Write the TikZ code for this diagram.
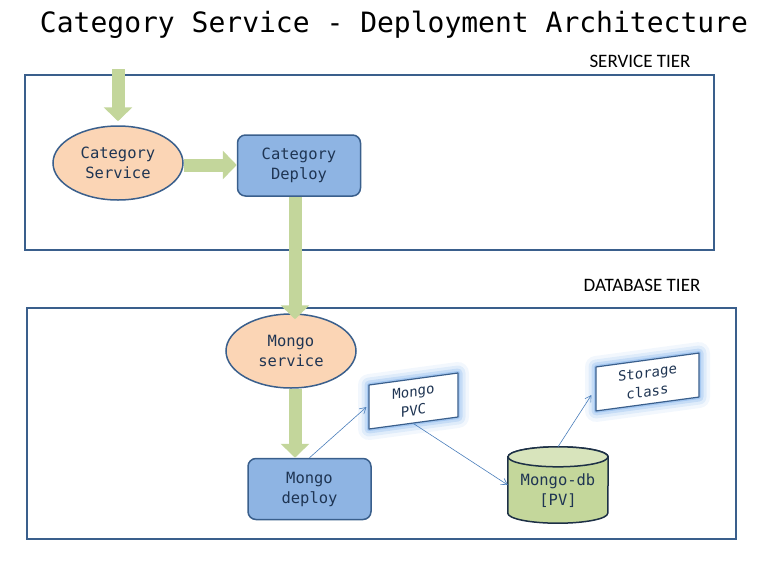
\documentclass[tikz,border=0pt]{standalone}
\usepackage{fontspec}
\setmonofont{DejaVu Sans Mono}
\newfontfamily\tierfont{Carlito}
\usetikzlibrary{shapes.geometric, arrows.meta, positioning}
\definecolor{edgeblue}{HTML}{3A5F8C}
\definecolor{peach}{HTML}{FBD5B5}
\definecolor{deployblue}{HTML}{8EB4E3}
\definecolor{flowgreen}{HTML}{C3D69B}
\definecolor{dbgreen}{HTML}{C4D79B}
\definecolor{dbtop}{HTML}{D8E4BC}
\definecolor{linkblue}{HTML}{4A7EBB}
\definecolor{glowblue}{HTML}{5B9BE6}
\definecolor{textnavy}{HTML}{1F3553}

\begin{document}
\begin{tikzpicture}[x=1pt, y=-1pt,
    tier/.style={draw=edgeblue, line width=2pt},
    svc/.style={ellipse, draw=edgeblue, line width=1.5pt, fill=peach, inner sep=0pt,
                minimum width=130pt, minimum height=74pt, align=center,
                font=\ttfamily\fontsize{15.5}{20}\selectfont, text=textnavy},
    deploy/.style={rectangle, rounded corners=8pt, draw=edgeblue, line width=1.5pt,
                fill=deployblue, minimum width=123pt, minimum height=61pt, align=center,
                font=\ttfamily\fontsize{15.5}{20}\selectfont, text=textnavy},
    claim/.style={rectangle, draw=edgeblue, line width=1.2pt, fill=white, yslant=0.135,
                line join=round, align=center, inner sep=0pt,
                font=\ttfamily\fontsize{14}{19}\selectfont, text=textnavy,
                preaction={draw=glowblue, opacity=0.08, line width=22pt},
                preaction={draw=glowblue, opacity=0.12, line width=15pt},
                preaction={draw=glowblue, opacity=0.2, line width=9pt},
                preaction={draw=glowblue, opacity=0.3, line width=4pt}},
    flow/.style={draw=flowgreen, line width=13pt, -{Triangle[length=14pt, width=28pt]}},
    link/.style={draw=linkblue, line width=0.6pt, -{Straight Barb[length=6pt, width=7pt]}}]

    \useasboundingbox (0,0) rectangle (766,568);

    % Title and tiers
    \node[font=\ttfamily\fontsize{28}{32}\selectfont] (title) at (394,25)
        {Category Service - Deployment Architecture};
    \node[font=\tierfont\fontsize{19}{22}\selectfont, text=black] (svctier) at (640,61) {SERVICE TIER};
    \node[font=\tierfont\fontsize{19}{22}\selectfont, text=black] (dbtier) at (642,285) {DATABASE TIER};
    \draw[tier] (25,75) rectangle (714,250);
    \draw[tier] (27,308) rectangle (736,539);

    % Boxes
    \node[svc] (catsvc) at (118,163) {Category\\Service};
    \node[deploy] (catdeploy) at (299,165.5) {Category\\Deploy};
    \node[svc] (mongosvc) at (291,351) {Mongo\\service};
    \node[deploy] (mongodeploy) at (309.5,489) {Mongo\\deploy};
    \node[claim, minimum width=89pt, minimum height=44pt] (pvc) at (413.5,401) {Mongo\\PVC};
    \node[claim, minimum width=103pt, minimum height=44pt] (storage) at (647.5,382) {Storage\\class};

    % Cylinder
    \node[minimum width=100pt, minimum height=76pt, inner sep=0pt] (db) at (558,485) {};
    \filldraw[fill=dbgreen, draw=edgeblue!50!black, line width=1.5pt]
        ([yshift=-10pt]db.north west) -- ([yshift=10pt]db.south west)
        arc[start angle=180, end angle=360, x radius=50pt, y radius=10pt]
        -- ([yshift=-10pt]db.north east)
        arc[start angle=0, end angle=180, x radius=50pt, y radius=10pt] -- cycle;
    \filldraw[fill=dbtop, draw=edgeblue!50!black, line width=1.5pt]
        ([yshift=-10pt]db.north) ellipse[x radius=50pt, y radius=10pt];
    \node[font=\ttfamily\fontsize{15.5}{20}\selectfont, text=textnavy, align=center]
        (dblabel) at ([yshift=-6pt]db.center) {Mongo-db\\{[}PV{]}};

    % Arrows
    \coordinate (entry) at (118,69);
    \draw[flow] (entry) -- ([yshift=4pt]catsvc.north);
    \draw[flow] (catsvc.east |- 0,165) -- (catdeploy.west |- 0,165);
    \draw[flow] ([xshift=-4pt]catdeploy.south) -- ([xshift=4pt,yshift=-6pt]mongosvc.north);
    \draw[flow] ([xshift=4pt]mongosvc.south) -- ([xshift=-14.5pt]mongodeploy.north);
    \draw[link] (mongodeploy.north) -- ([xshift=-2pt]pvc.west);
    \draw[link] (pvc.south) -- (db.west);
    \draw[link] (db.north) -- ([xshift=-4pt,yshift=-6pt]storage.west);
\end{tikzpicture}
\end{document}
